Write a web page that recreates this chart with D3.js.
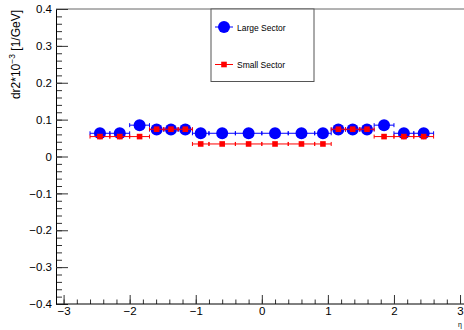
<!DOCTYPE html>
<html><head><meta charset="utf-8">
<script src="https://cdn.jsdelivr.net/npm/d3@7"></script>
<style>body{margin:0;background:#fff;} svg{display:block;font-family:"Liberation Sans",Arial,sans-serif;}</style>
</head><body>
<svg id="c" width="464" height="330"></svg>
<script>
const etaCenters = [-2.45,-2.15,-1.85,-1.592,-1.375,-1.158,-0.925,-0.6,-0.2,0.2,0.6,0.925,1.158,1.375,1.592,1.85,2.15,2.45];
const etaHalfWidths = [0.15,0.15,0.15,0.108,0.108,0.108,0.125,0.2,0.2,0.2,0.2,0.125,0.108,0.108,0.108,0.15,0.15,0.15];
const largeSector = [0.063,0.063,0.085,0.073,0.073,0.073,0.063,0.063,0.063,0.063,0.063,0.063,0.073,0.073,0.073,0.085,0.063,0.063];
const smallSector = [0.054,0.054,0.054,0.074,0.074,0.074,0.034,0.034,0.034,0.034,0.034,0.034,0.074,0.074,0.074,0.054,0.054,0.054];
const xTicks = [-3,-2,-1,0,1,2,3];
const yTicks = [-0.4,-0.3,-0.2,-0.1,0,0.1,0.2,0.3,0.4];
const seriesNames = ["Large Sector","Small Sector"];

const svg = d3.select("#c");
const L=56, R=464, T=9, B=304;
const x = d3.scaleLinear().domain([-3.115,3.06]).range([L,R]);
const y = d3.scaleLinear().domain([-0.4,0.4]).range([B,T]);
const fmt = v => (v<0?"\u2212":"") + Math.abs(v).toString();

// frame top
svg.append("line").attr("x1",L).attr("x2",R).attr("y1",T).attr("y2",T).attr("stroke","#666").attr("stroke-width",1);

// Y axis
const yMinor = d3.range(-0.4,0.4001,0.02).map(v=>+v.toFixed(2));
const gy = svg.append("g").attr("transform",`translate(${L},0)`);
gy.call(d3.axisLeft(y).tickValues(yMinor).tickSize(-6).tickFormat(""));
gy.call(g=>g.selectAll(".domain").remove());
const gy2 = svg.append("g").attr("transform",`translate(${L},0)`);
gy2.call(d3.axisLeft(y).tickValues(yTicks).tickSize(-12).tickPadding(4).tickFormat(fmt));
gy2.selectAll("text").attr("font-size",11.5).attr("fill","#000");
gy2.select(".domain").attr("stroke","#000");

// X axis
const xMinor = d3.range(-3,3.0001,0.2).map(v=>+v.toFixed(1));
const gx = svg.append("g").attr("transform",`translate(0,${B})`);
gx.call(d3.axisBottom(x).tickValues(xMinor).tickSize(-4.5).tickFormat(""));
gx.call(g=>g.selectAll(".domain").remove());
const gx2 = svg.append("g").attr("transform",`translate(0,${B})`);
gx2.call(d3.axisBottom(x).tickValues(xTicks).tickSize(-9).tickPadding(3).tickFormat(fmt));
gx2.selectAll("text").attr("font-size",11.5).attr("fill","#000");
gx2.select(".domain").attr("stroke","#000").attr("d",`M${L},0H${R}`);
svg.selectAll(".tick line").attr("stroke","#333");

// y title
const yt = svg.append("text").attr("transform","translate(20,10) rotate(-90)").attr("text-anchor","end").attr("font-size",12).attr("fill","#000");
yt.append("tspan").text("dr2*10");
yt.append("tspan").attr("font-size",8.5).attr("dy",-5).text("\u22123");
yt.append("tspan").attr("dy",5).text(" [1/GeV]");

// x title (small, bottom-right corner)
svg.append("text").attr("x",R-2).attr("y",327).attr("text-anchor","end").attr("font-size",7).attr("fill","#000").text("\u03b7");

function drawSeries(vals,color,marker){
  const g = svg.append("g");
  vals.forEach((v,i)=>{
    const x0 = x(etaCenters[i]-etaHalfWidths[i]), x1 = x(etaCenters[i]+etaHalfWidths[i]), yy = y(v);
    g.append("line").attr("x1",x0).attr("x2",x1).attr("y1",yy).attr("y2",yy).attr("stroke",color).attr("stroke-width",1);
    [x0,x1].forEach(xe=>g.append("line").attr("x1",xe).attr("x2",xe).attr("y1",yy-2).attr("y2",yy+2).attr("stroke",color).attr("stroke-width",1));
  });
  vals.forEach((v,i)=>{
    const cx = x(etaCenters[i]), cy = y(v);
    if(marker==="circle") g.append("circle").attr("cx",cx).attr("cy",cy).attr("r",6).attr("fill",color);
    else g.append("rect").attr("x",cx-2.8).attr("y",cy-2.8).attr("width",5.6).attr("height",5.6).attr("fill",color);
  });
}
drawSeries(largeSector,"#0000ff","circle");
drawSeries(smallSector,"#ff0000","square");

// legend
const lg = svg.append("g");
lg.append("rect").attr("x",211).attr("y",9).attr("width",103).attr("height",72.5).attr("fill","#fff").attr("stroke","#555").attr("stroke-width",1);
const legY = [27,64.5];
const legC = ["#0000ff","#ff0000"];
seriesNames.forEach((n,i)=>{
  lg.append("line").attr("x1",215).attr("x2",233).attr("y1",legY[i]).attr("y2",legY[i]).attr("stroke",legC[i]).attr("stroke-width",1);
  if(i===0) lg.append("circle").attr("cx",224).attr("cy",legY[i]).attr("r",6).attr("fill",legC[i]);
  else lg.append("rect").attr("x",221.2).attr("y",legY[i]-2.8).attr("width",5.6).attr("height",5.6).attr("fill",legC[i]);
  lg.append("text").attr("x",237).attr("y",legY[i]+3.5).attr("font-size",8.5).attr("fill","#000").text(n);
});
</script>
</body></html>
